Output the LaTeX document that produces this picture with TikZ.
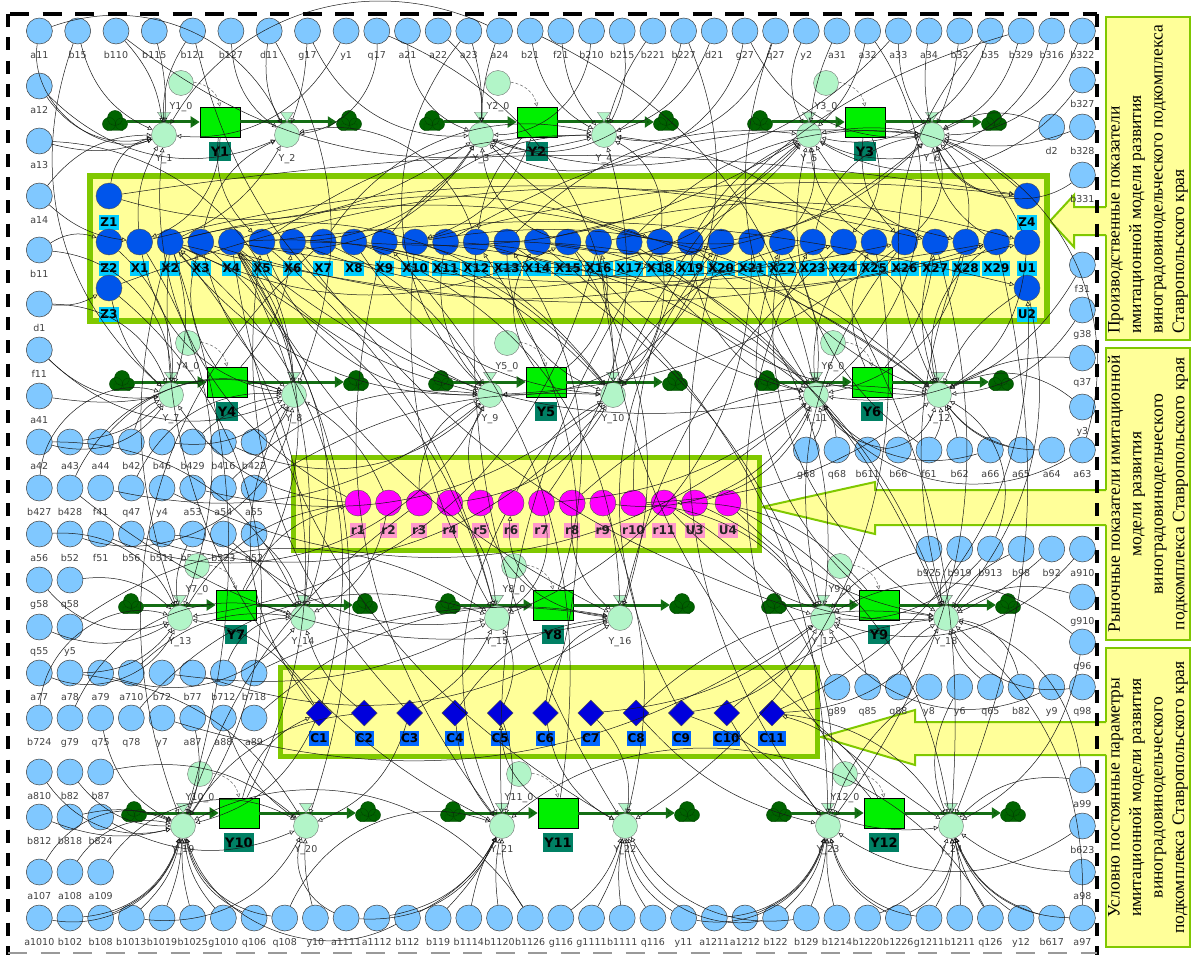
\documentclass[tikz,border=0pt]{standalone}
\usepackage{fontspec}
\usetikzlibrary{arrows.meta,calc,shapes.geometric}
\newfontfamily\labfont{DejaVu Sans}
\newfontfamily\boxfont{Liberation Serif}

\definecolor{parblue}{RGB}{128,200,255}
\definecolor{xblue}{RGB}{0,85,235}
\definecolor{xlab}{RGB}{0,204,255}
\definecolor{rmag}{RGB}{255,0,255}
\definecolor{rlab}{RGB}{255,153,204}
\definecolor{cblue}{RGB}{0,0,220}
\definecolor{clab}{RGB}{0,102,255}
\definecolor{stockgreen}{RGB}{0,240,0}
\definecolor{stocklab}{RGB}{0,128,100}
\definecolor{auxgreen}{RGB}{178,245,200}
\definecolor{cloudgreen}{RGB}{0,100,0}
\definecolor{pipegreen}{RGB}{20,110,20}
\definecolor{boxyellow}{RGB}{255,255,153}
\definecolor{boxgreen}{RGB}{128,200,0}
\definecolor{labgray}{RGB}{64,64,64}

\tikzset{
  param/.style={circle, draw=black!75, fill=parblue, minimum size=26pt, inner sep=0pt, line width=0.5pt},
  lab/.style={font=\labfont\fontsize{9.5}{10}\selectfont, text=labgray, inner sep=0.5pt, text height=7pt, text depth=0pt, label distance=7pt},
  vlab/.style={lab, label distance=6.5pt},
  xnode/.style={circle, draw=black!70, fill=xblue, minimum size=26pt, inner sep=0pt},
  xl/.style={fill=xlab, font=\labfont\bfseries\fontsize{12}{13}\selectfont, inner sep=1pt, text height=9pt, text depth=0pt, minimum height=15pt, label distance=5.5pt},
  rnode/.style={circle, draw=black!70, fill=rmag, minimum size=26pt, inner sep=0pt},
  rl/.style={xl, fill=rlab, text=black!85, label distance=6.5pt},
  cnode/.style={diamond, draw=black!70, fill=cblue, minimum width=26pt, minimum height=26pt, inner sep=0pt},
  cl/.style={xl, fill=clab, text=black, label distance=4.5pt},
  stock/.style={rectangle, draw=black, fill=stockgreen, minimum width=40pt, minimum height=30pt, inner sep=0pt, line width=0.6pt},
  ylab/.style={fill=stocklab, font=\labfont\bfseries\fontsize{13}{14}\selectfont, text=black, inner sep=1.5pt, text height=10pt, text depth=0pt, minimum height=19pt, label distance=4.5pt},
  valve/.style={circle, draw=black!55, fill=auxgreen, minimum size=25pt, inner sep=0pt, line width=0.4pt},
  vtri/.style={draw=black!55, fill=auxgreen, line width=0.4pt},
  src/.style={circle, minimum size=24pt, inner sep=0pt},
  puff/.style={fill=cloudgreen, draw=cloudgreen!70!black, line width=0.4pt},
  pipe/.style={draw=pipegreen, line width=3pt, -{Triangle[length=9pt,width=11pt,fill=cloudgreen]}},
  link/.style={draw=black!90, line width=0.5pt, -{Triangle[open,length=4.5pt,width=4.5pt]}},
  initlink/.style={draw=black!60, densely dashed, line width=0.5pt, -{Triangle[open,length=4pt,width=4pt]}},
  groupbox/.style={draw=boxgreen, fill=boxyellow, line width=5.5pt},
  txtbox/.style={draw=boxgreen, fill=boxyellow, line width=1.3pt},
  arrowline/.style={draw=boxgreen, line width=2pt, line join=miter},
  txt/.style={font=\boxfont\fontsize{17.5}{21.5}\selectfont, inner sep=0pt},
  hdash/.style={line width=4pt, dash pattern=on 19pt off 13.5pt},
  vdash/.style={line width=4pt, dash pattern=on 13pt off 10.3pt}
}

\begin{document}
\begin{tikzpicture}[x=1pt,y=-1pt]
\useasboundingbox (0,0) rectangle (1192,955);

\draw[groupbox] (90,176) rectangle (1047,321);
\draw[groupbox] (293.5,457.5) rectangle (759.5,550.5);
\draw[groupbox] (280.5,667.5) rectangle (817.5,756.5);

% text boxes on the right
\draw[txtbox] (1106,17) rectangle (1190,340);
\draw[txtbox] (1106,348) rectangle (1190,640);
\draw[txtbox] (1106,648) rectangle (1190,947);
\node[txt, rotate=90, anchor=west, align=left] (txtA) at (1148,334)
  {Производственные показатели\\имитационной модели развития\\виноградовинодельческого подкомплекса\\Ставропольского края};
\node[txt, rotate=90, align=center] (txtB) at (1148,494)
  {Рыночные показатели имитационной\\модели развития\\виноградовинодельческого\\подкомплекса Ставропольского края};
\node[txt, rotate=90, align=center] (txtC) at (1148,797.5)
  {Условно постоянные параметры\\имитационной модели развития\\виноградовинодельческого\\подкомплекса Ставропольского края};

\fill[boxyellow] (1050,221) -- (1074,195) -- (1074,207) -- (1107,207) -- (1107,235) -- (1074,235) -- (1074,247) -- cycle;
\draw[arrowline] (1106,207) -- (1074,207) -- (1074,195) -- (1050,221) -- (1074,247) -- (1074,235) -- (1106,235);
\fill[boxyellow] (762,507) -- (875,482) -- (875,490) -- (1107,490) -- (1107,525) -- (875,525) -- (875,534) -- cycle;
\draw[arrowline] (1106,490) -- (875,490) -- (875,482) -- (762,507) -- (875,534) -- (875,525) -- (1106,525);
\fill[boxyellow] (821,737) -- (915,710) -- (915,722) -- (1107,722) -- (1107,755) -- (915,755) -- (915,765) -- cycle;
\draw[arrowline] (1106,722) -- (915,722) -- (915,710) -- (821,737) -- (915,765) -- (915,755) -- (1106,755);

% parameters
\foreach \n [count=\k from 0] in {a11,b15,b110,b115,b121,b127,d11,g17}
  \node[param, label={[lab]below:\n}] (\n) at ({39.4+38.3*\k},31) {};
\foreach \n [count=\k from 10] in {y1,q17,a21,a22,a23,a24,b21,f21,b210,b215,b221,b227,d21,g27,q27,y2,a31,a32,a33,a34,b32,b35,b329,b316,b322}
  \node[param, label={[lab]below:\n}] (\n) at ({39.3+30.68*\k},31) {};
\foreach \n/\y in {a12/86, a13/141, a14/196, b11/250, d1/304, f11/350, a41/396}
  \node[param, label={[lab]below:\n}] (\n) at (39.3,\y) {};
\foreach \n [count=\k from 0] in {a42,a43,a44,b42,b46,b429,b416,b422}
  \node[param, label={[lab]below:\n}] (\n) at ({39.3+30.68*\k},442) {};
\foreach \n [count=\k from 0] in {b427,b428,f41,q47,y4,a53,a54,a55}
  \node[param, label={[lab]below:\n}] (\n) at ({39.3+30.68*\k},488) {};
\foreach \n [count=\k from 0] in {a56,b52,f51,b56,b511,b517,b523,q52}
  \node[param, label={[lab]below:\n}] (\n) at ({39.3+30.68*\k},534) {};
\foreach \n [count=\k from 0] in {g58,q58}
  \node[param, label={[lab]below:\n}] (\n) at ({39.3+30.68*\k},580) {};
\foreach \n [count=\k from 0] in {q55,y5}
  \node[param, label={[lab]below:\n}] (\n) at ({39.3+30.68*\k},627) {};
\foreach \n [count=\k from 0] in {a77,a78,a79,a710,b72,b77,b712,b718}
  \node[param, label={[lab]below:\n}] (\n) at ({39.3+30.68*\k},673) {};
\foreach \n [count=\k from 0] in {b724,g79,q75,q78,y7,a87,a88,a89}
  \node[param, label={[lab]below:\n}] (\n) at ({39.3+30.68*\k},718) {};
\foreach \n [count=\k from 0] in {a810,b82,b87}
  \node[param, label={[lab]below:\n}] (\n) at ({39.3+30.68*\k},772) {};
\foreach \n [count=\k from 0] in {b812,b818,b824}
  \node[param, label={[lab]below:\n}] (\n) at ({39.3+30.68*\k},817) {};
\foreach \n [count=\k from 0] in {a107,a108,a109}
  \node[param, label={[lab]below:\n}] (\n) at ({39.3+30.68*\k},872) {};
\foreach \n [count=\k from 0] in {a1010,b102,b108,b1013,b1019,b1025,g1010,q106,q108,y10,a1111,a1112,b112,b119,b1114,b1120,b1126,g116,g1111,b1111,q116,y11,a1211,a1212,b122,b129,b1214,b1220,b1226,g1211,b1211,q126,y12,b617,a97}
  \node[param, label={[lab]below:\n}] (\n) at ({39.3+30.68*\k},918) {};
\foreach \n [count=\k from 25] in {g68,q68,b611,b66,f61,b62,a66,a65,a64,a63}
  \node[param, label={[lab]below:\n}] (\n) at ({39.3+30.68*\k},450) {};
\foreach \n [count=\k from 29] in {b925,b919,b913,b98,b92,a910}
  \node[param, label={[lab]below:\n}] (\n) at ({39.3+30.68*\k},549) {};
\foreach \n/\m [count=\k from 26] in {g89/g89,q85/q85,q88/q88,y8/y8,y6/y6,q65/q65,b82r/b82,y9/y9,q98/q98}
  \node[param, label={[lab]below:\m}] (\n) at ({39.3+30.68*\k},687) {};
\foreach \n/\y in {b327/80, b328/127, b331/175, f31/265, g38/310, q37/358, y3/407, g910/597, q96/642, a99/780, b623/826, a98/872}
  \node[param, label={[lab]below:\n}] (\n) at (1082.4,\y) {};
\node[param, label={[lab]below:d2}] (d2) at (1051.7,127) {};

% production indicators
\node[xnode, label={[xl]below:Z1}] (Z1) at (109,196) {};
\foreach \n [count=\k from 0] in {Z2,X1,X2,X3,X4,X5,X6,X7,X8,X9,X10,X11,X12,X13,X14,X15,X16,X17,X18,X19,X20,X21,X22,X23,X24,X25,X26,X27,X28,X29,U1}
  \node[xnode, label={[xl]below:\n}] (\n) at ({109+30.6*\k},242) {};
\node[xnode, label={[xl]below:Z3}] (Z3) at (109,288) {};
\node[xnode, label={[xl]below:Z4}] (Z4) at (1027,196) {};
\node[xnode, label={[xl]below:U2}] (U2) at (1027,288) {};

% market indicators
\foreach \n [count=\k from 0] in {r1,r2,r3,r4,r5,r6,r7,r8,r9,r10,r11,U3}
  \node[rnode, label={[rl]below:\n}] (\n) at ({358+30.6*\k},503) {};
\node[rnode, label={[rl]below:U4}] (U4) at (728,503) {};

% constants
\foreach \n [count=\k from 0] in {C1,C2,C3,C4,C5,C6,C7,C8,C9,C10,C11}
  \node[cnode, label={[cl]below:\n}] (\n) at ({319+45.3*\k},713) {};

% stocks and flows
\foreach \n/\x/\y in {1/220/122, 2/537/122, 3/865/122, 4/227/382, 5/546/382, 6/872/382, 7/236/605, 8/553/605, 9/879/605, 10/239/813, 11/558/813, 12/884/813}{
  \pgfmathtruncatemacro{\va}{2*\n-1}
  \pgfmathtruncatemacro{\vb}{2*\n}
  \node[stock, label={[ylab]below:Y\n}] (Y\n) at (\x,\y) {};
  \node[src] (src\n) at ({\x-105},{\y-1}) {};
  \node[src] (snk\n) at ({\x+129},{\y-1}) {};
  \foreach \c in {src\n, snk\n}
    \path[puff] ($(\c)+(-6,3)$) circle (6.5pt) ($(\c)+(6.5,3)$) circle (6pt) ($(\c)+(0,-3)$) circle (7.5pt)
      ($(\c)+(-8,3)$) rectangle ($(\c)+(8,9.5)$);
  \draw[pipe] (src\n.east |- Y\n) -- (Y\n);
  \draw[pipe] (Y\n) -- (snk\n.west |- Y\n);
  \node[valve, label={[vlab]below:Y\_\va}] (v\va) at ({\x-56},{\y+13}) {};
  \node[valve, label={[vlab]below:Y\_\vb}] (v\vb) at ({\x+67},{\y+13}) {};
  \draw[vtri] ($(v\va.north)+(-6.5,-10)$) -- ++(13,0) -- ($(v\va.north)+(0,-0.5)$) -- cycle;
  \draw[vtri] ($(v\vb.north)+(-6.5,-10)$) -- ++(13,0) -- ($(v\vb.north)+(0,-0.5)$) -- cycle;
  \node[valve, label={[vlab]below:Y\n\_0}] (I\n) at ({\x-39},{\y-39}) {};
  \draw[initlink] (I\n) to[bend left=35] (Y\n.north);
}

% connectors
\foreach \p/\q/\w in {a11/v1/-35, b15/v1/-15, b110/v1/10, b115/v1/5, b121/v1/-10, b127/v2/-15, d11/v2/-10, g17/v2/5, y1/v1/20, q17/v2/25,
  a21/v3/-20, a22/v3/15, a23/v3/5, a24/v3/-5, b21/v4/-15, f21/v4/-10, b210/v3/25, b215/v4/10, b221/v4/-5, b227/v3/30,
  d21/v4/15, g27/v3/35, q27/v4/25, y2/v5/-15, a31/v5/-5, a32/v5/10, a33/v6/-10, a34/v6/-5, b32/v6/5, b35/v5/25,
  b329/v6/15, b316/v5/30, b322/v6/20, b327/v5/25, b328/v6/10, d2/v6/-15, b331/v6/30, f31/v11/20, g38/v12/15, q37/v12/-10, y3/v12/-20,
  b15/v7/-20, d11/v8/15, a23/v9/-25, b227/v10/20, q27/v11/-15, a32/v11/25, b35/v12/-20, g17/v3/-20, b110/v4/-15,
  a11/v2/25, b121/v9/-15, q17/v10/20, a24/v1/-25, b21/v11/15, g27/v6/-20, a33/v3/20, b329/v10/-15}{
  \pgfmathsetmacro{\ww}{1.7*\w}
  \draw[link] (\p) to[bend left=\ww] (\q);
}
\foreach \p/\q/\w in {a12/v1/-20, a13/v1/-10, a14/v1/15, b11/v7/25, d1/v7/20, f11/v7/-15, a41/v7/-5, a14/X1/-10, b11/Z2/15, d1/Z3/-10,
  a42/v7/-20, a43/v7/-10, a44/v8/20, b42/v7/15, b46/v8/-15, b429/v8/10, b416/v9/-20, b422/v8/-10,
  b427/v7/30, b428/v8/25, f41/v9/-15, q47/v8/20, y4/v11/-20, a53/v10/-15, a54/v9/15, a55/v10/10,
  a56/v13/20, b52/v8/-30, f51/v9/-25, b56/v10/-20, b511/v14/15, b517/v13/-10, b523/v15/-15, q52/v14/10,
  g58/v13/-20, q58/v13/15, q55/v13/-15, y5/v15/20,
  a77/v13/-25, a78/v13/-15, a79/v14/-20, a710/v14/15, b72/v15/-10, b77/v16/-15, b712/v14/20, b718/v16/10,
  b724/v13/30, g79/v14/25, q75/v19/-15, q78/v15/20, y7/v17/-15, a87/v19/10, a88/v20/-10, a89/v16/15,
  a810/v19/-20, b82/v19/-15, b87/v20/15, b812/v19/-10, b818/v19/10, b824/v20/-15, a107/v19/25, a108/v19/20, a109/v20/25,
  a12/v2/-20, a13/v8/25, f11/v8/-20, a42/v14/20, b428/v16/-15, a78/v20/15}{
  \pgfmathsetmacro{\ww}{1.7*\w}
  \draw[link] (\p) to[bend left=\ww] (\q);
}
\foreach \p/\q/\w in {a1010/v19/-25, b102/v19/-20, b108/v19/-15, b1013/v19/-10, b1019/v19/-5, b1025/v19/5, g1010/v19/10, q106/v19/15, q108/v19/20, y10/v20/5,
  a1111/v21/-20, a1112/v21/-15, b112/v21/-10, b119/v21/-5, b1114/v21/5, b1120/v21/5, b1126/v21/10, g116/v22/-10, g1111/v22/-5, b1111/v22/5,
  q116/v22/10, y11/v22/15, a1211/v23/-20, a1212/v23/-15, b122/v23/-10, b129/v23/-5, b1214/v23/5, b1220/v24/-15, b1226/v23/15, g1211/v24/-10,
  b1211/v24/-5, q126/v24/5, y12/v24/10, b617/v24/15, a97/v24/20,
  a1111/v20/25, b112/v19/30, y11/v23/-25, b122/v22/25, g1211/v23/20, q126/v21/-30,
  g68/v11/-15, q68/v11/-10, b611/v12/-20, b66/v11/15, f61/v12/-10, b62/v12/-5, a66/v11/20, a65/v12/10, a64/v12/15, a63/v11/25,
  b925/v17/-10, b919/v18/-15, b913/v17/15, b98/v18/-10, b92/v18/5, a910/v17/20, g910/v18/-15, q96/v17/-20,
  g89/v17/10, q85/v17/-15, q88/v18/15, y8/v23/-10, y6/v24/-15, q65/v18/10, b82r/v18/-20, y9/v17/25, q98/v18/20,
  a99/v24/-15, b623/v23/20, a98/v24/10, a63/v6/-25, f61/v5/20, b913/v12/-25, q96/v24/15, a99/v18/-20,
  b1013/v20/-20, q108/v21/25, b1126/v19/-25, b129/v22/20, b1226/v24/-20, a97/v18/-15}{
  \pgfmathsetmacro{\ww}{1.7*\w}
  \draw[link] (\p) to[bend left=\ww] (\q);
}
\foreach \p/\q/\w in {Z1/v1/20, Z1/v3/-15, Z2/v7/15, Z3/v7/-10, Z3/v19/25, X1/v1/10, X1/v8/-20, X1/v13/15,
  X2/v2/-10, X2/v7/10, X2/v9/-15, X2/v10/20, X2/v13/-10, X2/v15/15, X2/v19/10, X2/v21/-20, X2/v12/15,
  X3/v2/15, X3/v8/-10, X3/v14/20, X4/v3/-20, X4/v8/10, X4/v9/-10, X4/v10/15, X4/v11/-15, X4/v14/10, X4/v16/-10, X4/v20/15, X4/v22/-15,
  X5/v4/10, X5/v9/-20, X5/v15/10, X6/v3/-15, X6/v10/15, X6/v17/-10, X7/v4/20, X7/v9/10, X7/v19/-20,
  X8/v5/-10, X8/v10/-15, X8/v16/20, X9/v4/15, X9/v11/10, X9/v21/-15, X10/v5/-20, X10/v12/15, X10/v15/-10,
  X11/v6/10, X11/v9/-15, X11/v18/20, X12/v2/-25, X12/v11/15, X12/v22/-10, X13/v5/15, X13/v10/-20, X13/v17/10,
  X14/v6/-15, X14/v12/10, X14/v23/15, X15/v3/20, X15/v11/-10, X15/v16/15, X16/v5/-10, X16/v13/20, X16/v24/-15,
  X17/v6/15, X17/v12/-15, X17/v18/10, X18/v4/-20, X18/v10/15, X18/v21/-10, X19/v5/10, X19/v11/-20, X19/v17/15,
  X20/v6/-10, X20/v9/20, X20/v23/-15, X21/v3/15, X21/v12/-10, X21/v15/20, X22/v5/-15, X22/v11/10, X22/v18/-20,
  X23/v6/20, X23/v10/-15, X23/v24/10, X24/v4/-10, X24/v12/15, X24/v16/-10, X25/v5/15, X25/v11/-15, X25/v22/20,
  X26/v6/-20, X26/v9/10, X26/v17/-15, X27/v5/10, X27/v12/-10, X27/v23/15, X28/v6/-15, X28/v11/20, X28/v18/-10,
  X29/v6/15, X29/v12/-20, X29/v24/10, U1/v6/-10, U1/v12/15, Z4/v6/20, Z4/v5/-15, U2/v12/-10, U2/v18/15,
  X2/U1/-8, X4/X29/-6, Z1/Z4/5, X1/X27/8, X3/X24/-10, X5/U2/6, X6/X20/-12, Z3/X28/10, X8/X26/-7, X10/Z4/6,
  X2/X15/-15, X4/X18/12, X12/X29/-10, X14/U1/9}{
  \pgfmathsetmacro{\ww}{1.7*\w}
  \draw[link] (\p) to[bend left=\ww] (\q);
}
\foreach \p/\q/\w in {Y1/X1/20, Y1/X5/-15, Y2/X10/15, Y2/X12/-10, Y3/X24/20, Y3/X26/-15, Y4/X3/15, Y4/X6/-10,
  Y5/X14/20, Y5/X16/-20, Y6/X25/15, Y6/X27/-10, Y7/r1/15, Y7/X4/-20, Y8/r6/15, Y8/X13/-15, Y9/r11/-15, Y9/X22/20,
  Y10/C1/15, Y10/X2/-20, Y11/C5/15, Y11/X9/-15, Y12/C11/-15, Y12/X23/20,
  r1/v7/15, r1/v13/-15, r2/v8/-10, r2/v14/15, r3/v9/20, r3/v19/-10, r4/v10/-15, r4/v15/10, r5/v9/15, r5/v16/-20,
  r6/v10/10, r6/v21/-15, r7/v11/-10, r7/v15/20, r8/v12/15, r8/v16/-15, r9/v11/-20, r9/v22/10, r10/v17/15, r10/v12/-10,
  r11/v18/-15, r11/v23/20, U3/v17/10, U3/v11/-15, U4/v18/-10, U4/v24/15, r1/v1/20, r7/v4/-15, r10/v5/15,
  C1/v13/-15, C1/v19/15, C1/v8/20, C2/v14/10, C2/v19/-15, C3/v15/-10, C3/v20/15, C4/v16/15, C4/v21/-10,
  C5/v15/-15, C5/v21/10, C6/v16/20, C6/v22/-15, C7/v17/-10, C7/v22/15, C8/v18/15, C8/v23/-10, C9/v17/-15, C9/v23/10,
  C10/v18/10, C10/v24/-20, C11/v18/-15, C11/v24/15, C1/X2/-20, C3/X5/15, C6/X12/-15, C9/X20/20, C11/U2/-20}{
  \pgfmathsetmacro{\ww}{1.7*\w}
  \draw[link] (\p) to[bend left=\ww] (\q);
}

% dashed frame
\draw[hdash] (10,14) -- (1097,14);
\draw[vdash] (8.3,14) -- (8.3,955);
\draw[vdash] (1097,14) -- (1097,955);
\draw[black!40, line width=1.5pt, dash pattern=on 19pt off 13.5pt] (8,953) -- (1097,953);
\end{tikzpicture}
\end{document}
